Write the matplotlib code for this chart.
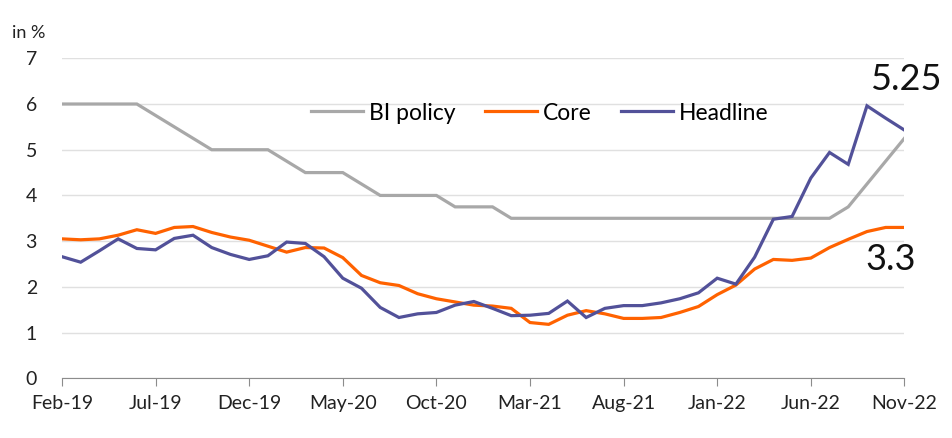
import matplotlib
matplotlib.use("Agg")
import matplotlib.pyplot as plt
import numpy as np

months = ["Feb-19","Mar-19","Apr-19","May-19","Jun-19","Jul-19","Aug-19","Sep-19","Oct-19","Nov-19","Dec-19",
          "Jan-20","Feb-20","Mar-20","Apr-20","May-20","Jun-20","Jul-20","Aug-20","Sep-20","Oct-20","Nov-20","Dec-20",
          "Jan-21","Feb-21","Mar-21","Apr-21","May-21","Jun-21","Jul-21","Aug-21","Sep-21","Oct-21","Nov-21","Dec-21",
          "Jan-22","Feb-22","Mar-22","Apr-22","May-22","Jun-22","Jul-22","Aug-22","Sep-22","Oct-22","Nov-22"]

bi_policy = [6.0, 6.0, 6.0, 6.0, 6.0, 5.75, 5.5, 5.25, 5.0, 5.0, 5.0,
             5.0, 4.75, 4.5, 4.5, 4.5, 4.25, 4.0, 4.0, 4.0, 4.0, 3.75, 3.75,
             3.75, 3.5, 3.5, 3.5, 3.5, 3.5, 3.5, 3.5, 3.5, 3.5, 3.5, 3.5,
             3.5, 3.5, 3.5, 3.5, 3.5, 3.5, 3.5, 3.75, 4.25, 4.75, 5.25]

core = [3.05, 3.03, 3.05, 3.13, 3.25, 3.17, 3.30, 3.32, 3.19, 3.09, 3.02,
        2.89, 2.76, 2.86, 2.85, 2.64, 2.25, 2.09, 2.03, 1.85, 1.74, 1.67, 1.60,
        1.58, 1.53, 1.22, 1.18, 1.38, 1.48, 1.41, 1.31, 1.31, 1.33, 1.44, 1.57,
        1.83, 2.04, 2.39, 2.60, 2.58, 2.63, 2.86, 3.04, 3.21, 3.30, 3.30]

headline = [2.66, 2.54, 2.79, 3.05, 2.84, 2.81, 3.06, 3.13, 2.86, 2.71, 2.60,
            2.68, 2.98, 2.95, 2.66, 2.19, 1.97, 1.55, 1.33, 1.41, 1.44, 1.60, 1.68,
            1.53, 1.37, 1.38, 1.42, 1.69, 1.33, 1.53, 1.59, 1.59, 1.65, 1.74, 1.87,
            2.19, 2.06, 2.65, 3.48, 3.54, 4.38, 4.94, 4.68, 5.96, 5.69, 5.43]

tick_labels = months[::5]
series_names = ["BI policy", "Core", "Headline"]
colors = ["#A8A8A8", "#FF6200", "#525199"]

plt.rcParams['font.family'] = ['Lato', 'DejaVu Sans']

fig = plt.figure(figsize=(9.52, 4.38), dpi=100)
ax = fig.add_axes([0.0651, 0.1363, 0.8849, 0.7306])

x = np.arange(len(months))
for vals, name, c in zip([bi_policy, core, headline], series_names, colors):
    ax.plot(x, vals, color=c, lw=2.3, label=name, solid_joinstyle='miter')

ax.set_xlim(0, len(months) - 1)
ax.set_ylim(0, 7)
ax.set_yticks(range(0, 8))
ax.set_xticks(x[::5])
ax.set_xticklabels(tick_labels)
ax.grid(axis='y', color='#E0E0E0', lw=1)
ax.set_axisbelow(True)
for s in ['left', 'right', 'top']:
    ax.spines[s].set_visible(False)
ax.spines['bottom'].set_color('#8C8C8C')
ax.tick_params(axis='y', length=0, pad=18, labelsize=14, labelcolor='#222222')
ax.tick_params(axis='x', length=6, color='#8C8C8C', pad=6, labelsize=14, labelcolor='#222222')

leg = ax.legend(ncol=3, frameon=False, loc='center', bbox_to_anchor=(0.567, 0.829),
                fontsize=16.5, handlelength=2.27, columnspacing=1.27, handletextpad=0.26)

fig.text(12, 438 - 33, "in %", transform=None, ha='left', va='center', fontsize=13,
         color='#222222')
fig.text(906, 438 - 80, "5.25", transform=None, ha='center', va='center', fontsize=26, color='#111111')
fig.text(891, 438 - 260, "3.3", transform=None, ha='center', va='center', fontsize=26, color='#111111')

fig.savefig("out.png", dpi=100)
